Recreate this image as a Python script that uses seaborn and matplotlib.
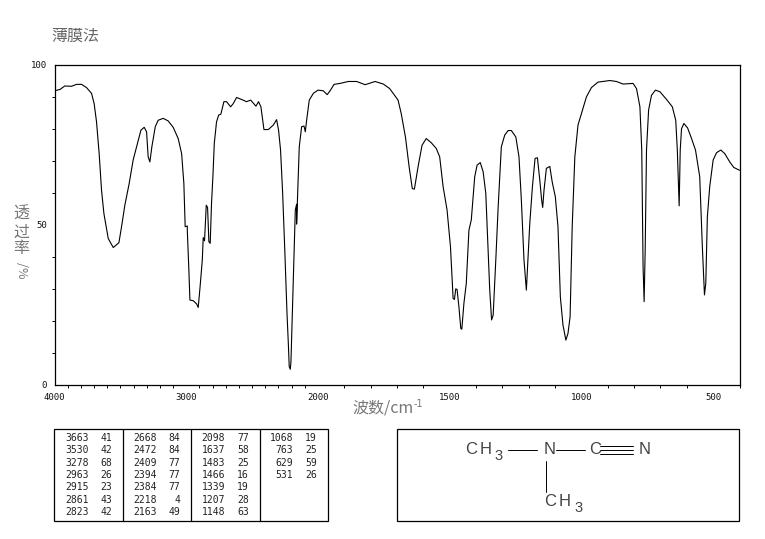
import numpy as np
import pandas as pd
import matplotlib
matplotlib.use("Agg")
import matplotlib.pyplot as plt
from matplotlib.lines import Line2D
from matplotlib.patches import Rectangle
import seaborn as sns

sns.set_theme(style="white")
plt.rcParams['font.family'] = ['Noto Sans CJK SC', 'DejaVu Sans']

wavenumber = [4000,3959,3922,3871,3833,3795,3757,3719,3699,3681,3661,3643,3625,3592,3554,3511,3491,3466,3433,3403,3377,3344,3319,3301,3289,3276,3261,3235,3213,3175,3137,3099,3061,3035,3018,3008,2992,2992,2980,2972,2947,2921,2909,2896,2878,2871,2861,2848,2838,2828,2818,2808,2797,2787,2770,2754,2737,2714,2694,2663,2643,2618,2580,2542,2511,2471,2451,2433,2410,2377,2339,2314,2299,2284,2268,2251,2235,2225,2218,2210,2205,2195,2180,2172,2162,2162,2154,2142,2124,2106,2096,2086,2066,2035,2000,1980,1965,1954,1939,1916,1885,1853,1821,1783,1752,1728,1696,1684,1668,1654,1642,1634,1620,1605,1589,1570,1551,1538,1525,1510,1497,1487,1482,1477,1472,1465,1458,1454,1446,1437,1427,1418,1405,1396,1384,1373,1363,1354,1348,1341,1335,1325,1316,1304,1291,1278,1266,1249,1237,1228,1218,1209,1203,1196,1186,1176,1167,1158,1151,1147,1142,1133,1120,1111,1099,1089,1080,1070,1059,1051,1043,1035,1025,1013,996,981,962,937,892,867,842,804,791,778,771,766,762,758,753,745,734,719,702,677,655,642,636,631,629,625,620,611,597,582,567,551,541,533,528,522,513,500,487,471,456,437,422,400]
transmittance = [91.8,92.2,93.3,93.2,93.8,93.8,92.8,91,87.8,82.1,72.2,60.8,53.5,45.7,42.9,44.4,49.4,56.1,62.9,70.2,74.3,79.5,80.4,79,71.2,69.6,74.3,80.6,82.6,83.2,82.4,80.4,76.9,72.2,62.9,49.4,49.6,48.4,35.9,26.5,26.3,25.3,24.2,30.1,39,46,45,56.1,55.4,44.7,44.2,56.7,65.5,75.4,82.1,84.2,84.5,88.4,88.4,86.8,87.8,89.7,89.1,88.4,88.9,87,88.4,86.8,79.7,79.7,81.1,82.8,79.5,73.3,59.8,41.1,22.3,13,5.7,4.9,7.3,21.3,42.1,54.6,56.4,50.2,59.8,74.3,80.6,80.8,79,82.6,88.9,91,92,91.8,90.6,91.8,93.8,94.1,94.7,94.7,93.7,94.7,93.9,92.5,88.9,84.7,77.4,68.1,61.3,61.1,68.1,74.8,76.9,75.6,73.8,71.2,61.9,54.6,43.1,27,26.7,30,29.8,24.4,17.7,17.4,25.5,31.7,48.3,51.5,65,68.6,69.4,66.5,59.8,42.1,29.6,20.3,21.8,39,55.6,74.3,78,79.4,79.4,77.4,71.2,57.7,39,29.6,39,50.4,61.9,70.7,70.9,63.9,57.7,55.4,60.8,67.6,68.2,63.4,58.7,49.4,27.5,18.7,14,16.1,21.3,49.4,71.2,81.1,85.8,89.9,92.8,94.5,95,94.7,93.9,94.1,92.5,86.8,73.3,36.9,26,42.1,73.3,85.8,90.4,92,91.5,89.1,86.8,82.6,73.3,61.3,55.9,73.3,80,81.6,80.2,76.9,73.3,65,43.1,28.1,31.7,52.5,61.9,70.2,72.5,73.3,72.2,69.6,67.9,67]

peak_wn1 = [3663,3530,3278,2963,2915,2861,2823]
peak_t1 = [41,42,68,26,23,43,42]
peak_wn2 = [2668,2472,2409,2394,2384,2218,2163]
peak_t2 = [84,84,77,77,77,4,49]
peak_wn3 = [2098,1637,1483,1466,1339,1207,1148]
peak_t3 = [77,58,25,16,19,28,63]
peak_wn4 = [1068,763,629,531]
peak_t4 = [19,25,59,26]

x_major = [4000,3000,2000,1500,1000,500]
y_major = [0,50,100]

W, H = 765, 539
fig = plt.figure(figsize=(W/100, H/100), dpi=100, facecolor="white")

def ax_rect(l, t, r, b):
    return [l/W, 1-b/H, (r-l)/W, (b-t)/H]

ax = fig.add_axes(ax_rect(54.5, 64.5, 739.5, 385))

def fwd(v):
    v = np.asarray(v, dtype=float)
    return np.where(v >= 2000, 2000+(v-2000)*0.5, v)
def inv(u):
    u = np.asarray(u, dtype=float)
    return np.where(u >= 2000, 2000+(u-2000)*2, u)
ax.set_xscale("function", functions=(fwd, inv))

df = pd.DataFrame({"wn": wavenumber, "T": transmittance})
sns.lineplot(data=df, x="wn", y="T", estimator=None, sort=False, color="black", lw=0.8, ax=ax)

ax.set_xlim(4000, 400)
ax.set_ylim(0, 100)
ax.set_xlabel("")
ax.set_ylabel("")
ax.set_xticks(x_major)
ax.set_xticks(np.arange(400, 4001, 100), minor=True)
ax.set_xticklabels([str(v) for v in x_major])
ax.set_xticklabels([], minor=True)
ax.set_yticks(y_major)
ax.set_yticks(np.arange(0, 101, 10), minor=True)
ax.tick_params(axis="both", which="major", length=3.5, width=0.8, color="black", pad=2,
               labelsize=6.5, labelcolor="#111111")
ax.tick_params(axis="both", which="minor", length=2, width=0.7, color="black", bottom=True, left=True)
for lab in ax.get_xticklabels() + ax.get_yticklabels():
    lab.set_family("DejaVu Sans Mono")
for s in ax.spines.values():
    s.set_color("black")
    s.set_linewidth(0.9)
    s.set_visible(True)

ov = fig.add_axes([0, 0, 1, 1], facecolor="none")
ov.set_xlim(0, W)
ov.set_ylim(H, 0)
ov.axis("off")

gray = "#777777"
ov.text(51, 36, "薄膜法", fontsize=11.5, color="#666666", va="center", ha="left")
for ch, yy in zip("透过率", (214, 232, 249)):
    ov.text(21.5, yy, ch, fontsize=11.5, color=gray, va="center", ha="center")
ov.text(21.5, 264, "/", fontsize=9, color=gray, va="center", ha="center", rotation=-90)
ov.text(21.5, 273, "%", fontsize=9, color=gray, va="center", ha="center", rotation=-90)
ov.text(352, 408, "波数/cm", fontsize=11.5, color=gray, va="center", ha="left")
ov.text(414, 404, "-1", fontsize=7, color=gray, va="center", ha="left", family="DejaVu Sans")

# peak table
ov.add_patch(Rectangle((54, 428.5), 274, 92, fill=False, ec="black", lw=0.9))
for xx in (123.5, 191, 260.5):
    ov.add_line(Line2D([xx, xx], [428.5, 520.5], color="black", lw=0.9))
columns = [(peak_wn1, peak_t1, 89, 112), (peak_wn2, peak_t2, 156.5, 180),
           (peak_wn3, peak_t3, 225, 249), (peak_wn4, peak_t4, 293, 317)]
for wns, ts, xa, xb in columns:
    for i, (w_, t_) in enumerate(zip(wns, ts)):
        yy = 438 + i*12.35
        ov.text(xa, yy, str(w_), fontsize=7, family="DejaVu Sans Mono", color="#222222", va="center", ha="right")
        ov.text(xb, yy, str(t_), fontsize=7, family="DejaVu Sans Mono", color="#222222", va="center", ha="right")

# structure box
ov.add_patch(Rectangle((397.5, 428.5), 342, 92, fill=False, ec="black", lw=0.9))
tk = dict(fontsize=12, color="#444444", va="center", ha="center", family="Liberation Sans")
sub = {**tk, "fontsize": 10.5}
for label, xx, yy, style in [("C", 471, 450, tk), ("H", 486, 450, tk), ("3", 499, 456.5, sub),
                             ("N", 550, 450, tk), ("C", 595, 450, tk), ("N", 645, 450, tk),
                             ("C", 550, 501.5, tk), ("H", 565, 501.5, tk), ("3", 578.5, 508, sub)]:
    ov.text(xx, yy, label, **style)
for xs, ys in [((508, 537), (450, 450)), ((556, 585), (450, 450)), ((546, 546), (461, 491.5)),
               ((600, 633), (446, 446)), ((600, 633), (450, 450)), ((600, 633), (454, 454))]:
    ov.add_line(Line2D(xs, ys, color="black", lw=0.7))

fig.savefig("out.png", dpi=100, facecolor="white")
